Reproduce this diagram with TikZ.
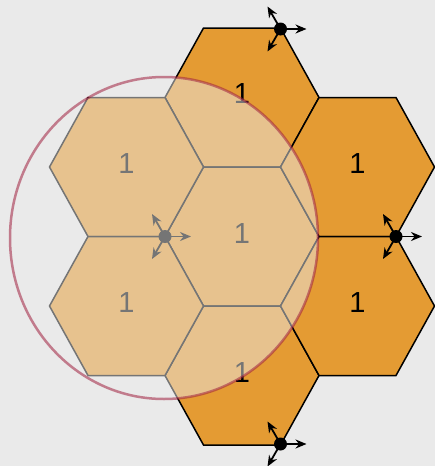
\documentclass[tikz,border=0pt]{standalone}
\usepackage{fontspec}
\setmainfont{Liberation Sans}
\usetikzlibrary{arrows.meta}
\definecolor{bgc}{HTML}{EAEAEA}
\definecolor{hexorange}{HTML}{E49B33}
\definecolor{ringred}{HTML}{A0203F}
\tikzset{
  hexcell/.style={fill=hexorange, draw=black, line width=1.5pt, line join=miter},
  hexlabel/.style={font=\fontsize{29}{29}\selectfont, text=black, inner sep=0pt},
  vdot/.style={circle, fill=black, inner sep=0pt, minimum size=13pt},
  varrow/.style={line width=1.8pt, -{Stealth[length=11pt,width=9pt]}},
  ring/.style={fill=bgc, fill opacity=0.5, draw=ringred, draw opacity=0.55, line width=2.5pt}
}
\newcommand{\hexat}[2]{%
  \draw[hexcell] (#1-77,#2) -- (#1-38.5,#2-69.5) -- (#1+38.5,#2-69.5) -- (#1+77,#2)
    -- (#1+38.5,#2+69.5) -- (#1-38.5,#2+69.5) -- cycle;}
\begin{document}
\begin{tikzpicture}[x=1pt,y=-1pt]
\fill[bgc] (0,0) rectangle (435,466);
\useasboundingbox (0,0) rectangle (435,466);
% hexagons
\hexat{242}{97.5}
\hexat{242}{236.5}
\hexat{242}{375.5}
\hexat{126.5}{167}
\hexat{126.5}{306}
\hexat{357.5}{167}
\hexat{357.5}{306}
% labels
\node[hexlabel] (lT)  at (242,93.5) {1};
\node[hexlabel] (lC)  at (242,234) {1};
\node[hexlabel] (lB)  at (242,373) {1};
\node[hexlabel] (lLU) at (126.5,164) {1};
\node[hexlabel] (lLD) at (126.5,303) {1};
\node[hexlabel] (lRU) at (357.5,164) {1};
\node[hexlabel] (lRD) at (357.5,303) {1};
% vertex dots with arrows
\foreach \n/\x/\y in {dC/165/236.5, dT/280.5/29, dR/396/236.5, dB/280.5/444}{
  \node[vdot] (\n) at (\x,\y) {};
  \foreach \a/\k in {0/a,120/b,240/c}{
    \path (\n.center) ++(\a:26) coordinate (\n\k);
    \draw[varrow] (\n.center) -- (\n\k);
  }
}
% translucent ring
\draw[ring] (164,238) ellipse [x radius=154, y radius=161];
\end{tikzpicture}
\end{document}
